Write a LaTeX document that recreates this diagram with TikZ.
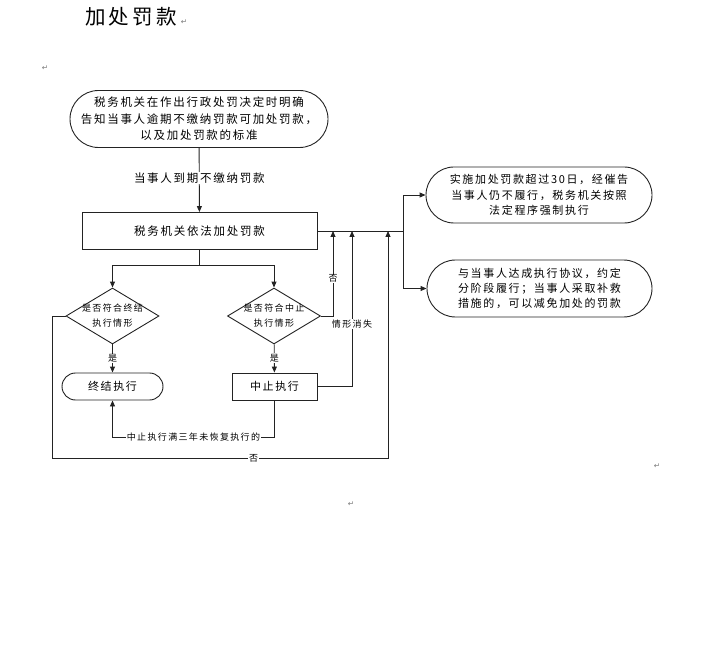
\documentclass[tikz,border=0pt]{standalone}
\usepackage{fontspec}
\setmainfont[LetterSpace=15]{Noto Sans CJK SC}
\newfontfamily\markfont{DejaVu Sans}
\usetikzlibrary{shapes.geometric, arrows.meta, positioning}
\definecolor{cLine}{RGB}{35,35,35}
\definecolor{cMark}{RGB}{120,120,120}
\tikzset{
	stadium/.style={rectangle, rounded corners=#1, draw=cLine, line width=0.9pt, align=center, inner sep=0pt},
	blk/.style    ={rectangle, draw=cLine, line width=0.9pt, align=center, inner sep=0pt},
	decide/.style ={diamond, draw=cLine, line width=0.9pt, minimum width=93pt, minimum height=56pt, inner sep=0pt},
	dtext/.style  ={align=center, font=\fontsize{9}{15}\selectfont},
	sig/.style    ={-{Triangle[length=6pt, width=5pt]}, draw=cLine, line width=0.9pt},
	ln/.style     ={draw=cLine, line width=0.9pt},
	lbl/.style    ={fill=white, inner sep=1pt, font=\fontsize{9}{11}\selectfont},
	pmark/.style  ={text=cMark, inner sep=0pt, font=\markfont\fontsize{7.5}{8}\selectfont},
}
\begin{document}
\begin{tikzpicture}[x=1pt, y=-1pt]
	\useasboundingbox (0,0) rectangle (701,668);
	\node[font=\fontsize{20.5}{24}\selectfont] (title) at (131,17) {加处罚款};
	\node[pmark] (mk1) at (184,22) {↵};
	\node[pmark] (mk2) at (45,68) {↵};
	\node[pmark] (mk3) at (657,466) {↵};
	\node[pmark] (mk4) at (351,504) {↵};
	% main column
	\node[stadium=28.5pt, minimum width=258pt, minimum height=57pt, font=\fontsize{11.5}{16.5}\selectfont] (notice) at (199,119) {税务机关在作出行政处罚决定时明确\\告知当事人逾期不缴纳罚款可加处罚款，\\以及加处罚款的标准};
	\node[blk, minimum width=235pt, minimum height=37pt, font=\fontsize{11.5}{14}\selectfont] (surcharge) at (199.5,231) {税务机关依法加处罚款};
	\node[decide] (dEnd) at (112.5,316) {};
	\node[dtext] (dEndText) at (112.5,316) {是否符合终结\\执行情形};
	\node[decide] (dSusp) at (274,316) {};
	\node[dtext] (dSuspText) at (274,316) {是否符合中止\\执行情形};
	\node[stadium=13.5pt, minimum width=101pt, minimum height=27pt, font=\fontsize{11}{14}\selectfont] (endExec) at (112.5,386.5) {终结执行};
	\node[blk, minimum width=85pt, minimum height=27pt, font=\fontsize{11}{14}\selectfont] (suspExec) at (274.5,386.5) {中止执行};
	% right column
	\node[stadium=28pt, minimum width=226pt, minimum height=56pt, font=\fontsize{11}{15.5}\selectfont] (enforce) at (539,195) {实施加处罚款超过30日，经催告\\当事人仍不履行，税务机关按照\\法定程序强制执行};
	\node[stadium=28.5pt, minimum width=225pt, minimum height=57pt, font=\fontsize{11}{15}\selectfont] (relief) at (539.5,288.5) {与当事人达成执行协议，约定\\分阶段履行；当事人采取补救\\措施的，可以减免加处的罚款};
	\coordinate (hub) at (403,231);
	\coordinate (fork) at (199.5,265);
	\coordinate (inNo) at (333,231);
	\coordinate (inResume) at (352,231);
	\coordinate (inLoop) at (388,231);
	\coordinate (loopL) at (52,458);
	\draw[sig] (notice) -- node[lbl, pos=0.47, font=\fontsize{11.5}{14}\selectfont] {当事人到期不缴纳罚款} (surcharge);
	\draw[ln] (surcharge.east) -- (hub);
	\draw[sig] (hub) |- (enforce.west);
	\draw[sig] (hub) |- (relief.west);
	\draw[ln] (surcharge.south) -- (fork);
	\draw[sig] (fork) -| (dEnd.north);
	\draw[sig] (fork) -| (dSusp.north);
	\draw[sig] (dEnd) -- node[lbl] {是} (endExec);
	\draw[sig] (dSusp) -- node[lbl] {是} (suspExec);
	\draw[sig] (dSusp.east) -| node[lbl, pos=0.72] {否} (inNo);
	\draw[sig] (suspExec.east) -| node[lbl, pos=0.7] {情形消失} (inResume);
	\draw[sig] (suspExec.south) -- ++(0,37) -| node[lbl, pos=0.25] {中止执行满三年未恢复执行的} (endExec.south);
	\draw[sig] (dEnd.west) -| (loopL) -| node[lbl, pos=0.3] {否} (inLoop);
\end{tikzpicture}
\end{document}
